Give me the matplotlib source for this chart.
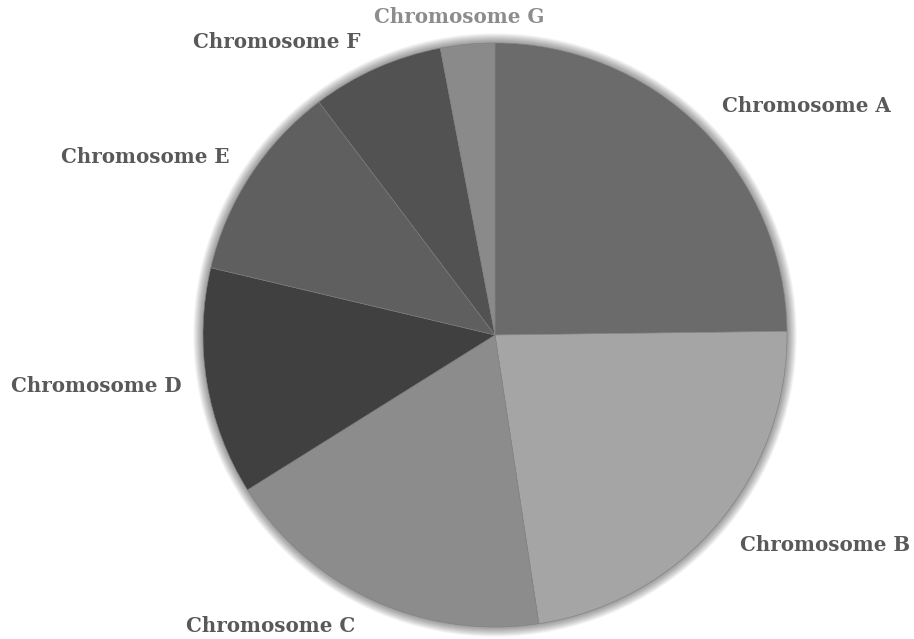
import matplotlib
matplotlib.use("Agg")
import matplotlib.pyplot as plt
from matplotlib.patches import Circle

categories = ["Chromosome A", "Chromosome B", "Chromosome C", "Chromosome D",
              "Chromosome E", "Chromosome F", "Chromosome G"]
shares = [24.8, 22.8, 18.5, 12.6, 11.0, 7.3, 3.0]
colors = ["#6b6b6b", "#a5a5a5", "#8c8c8c", "#404040", "#5f5f5f", "#525252", "#8a8a8a"]
label_colors = ["#595959"] * 6 + ["#8c8c8c"]
# label anchor points (pixels from top-left of the canvas)
label_pos = [(806, 106), (825, 545), (271, 626), (96, 386), (145, 157), (277, 42), (459, 17)]

W, H = 914, 639
fig = plt.figure(figsize=(W / 100, H / 100), dpi=100)
ax = fig.add_axes([0, 0, 1, 1])

cx, cy, r = 495, H - 335, 292

# soft glow around the pie
for i in range(14, 0, -1):
    ax.add_patch(Circle((cx, cy), r + i * 0.7, color="black", alpha=0.03, lw=0, zorder=1))

ax.pie(shares, colors=colors, startangle=90, counterclock=False,
       center=(cx, cy), radius=r, frame=True,
       wedgeprops=dict(linewidth=0.4, edgecolor="#808080", zorder=2))
ax.set_xlim(0, W)
ax.set_ylim(0, H)
ax.set_aspect("equal")
ax.axis("off")

for name, (x, y), c in zip(categories, label_pos, label_colors):
    ax.text(x, H - y, name, ha="center", va="center", fontsize=14.3,
            fontweight="bold", family="DejaVu Serif", color=c)

fig.savefig("out.png", dpi=100)
